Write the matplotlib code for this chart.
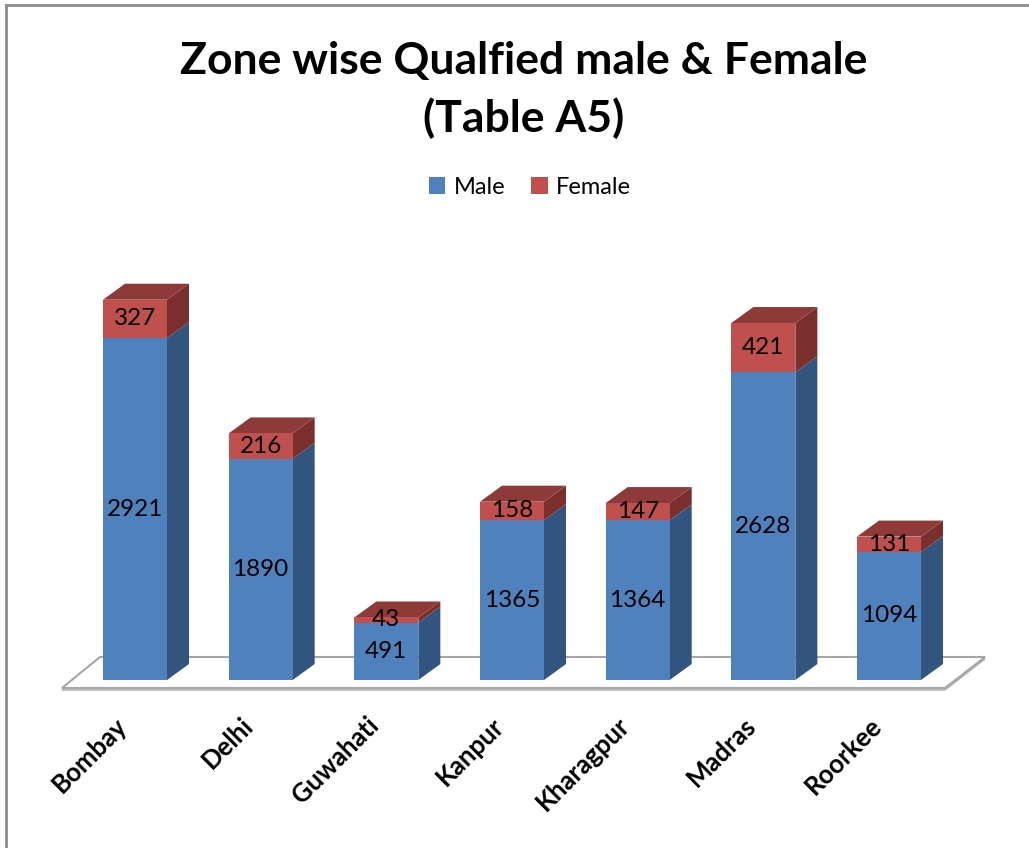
import matplotlib
matplotlib.use("Agg")
import matplotlib.pyplot as plt
from matplotlib.patches import Polygon
from matplotlib.lines import Line2D

# ---- data ----
zones = ["Bombay", "Delhi", "Guwahati", "Kanpur", "Kharagpur", "Madras", "Roorkee"]
male = [2921, 1890, 491, 1365, 1364, 2628, 1094]
female = [327, 216, 43, 158, 147, 421, 131]
title = "Zone wise Qualfied male & Female\n(Table A5)"

# ---- style ----
FONT = "Lato"
male_front, male_side, male_top = "#4F81BD", "#32557F", "#3F6797"
fem_front, fem_side, fem_top = "#C0504D", "#7B2F2D", "#8E3A38"
W, H = 1029, 848
fig = plt.figure(figsize=(W / 100, H / 100), dpi=100)
fig.patch.set_facecolor("white")

# axes spanning whole figure; category index on x, value on y
px_per_cat = 125.67
x0_px = 135.0
px_per_val = 0.11708
base_px = 680.0
ax = fig.add_axes([0, 0, 1, 1])
ax.set_xlim(-x0_px / px_per_cat, (W - x0_px) / px_per_cat)
ax.set_ylim(-(H - base_px) / px_per_val, base_px / px_per_val)
ax.axis("off")

bw = 64 / px_per_cat
dx = 22 / px_per_cat
dy = 16 / px_per_val

# floor
fl_back_y = (base_px - 657) / px_per_val
fl_front_y = (base_px - 688) / px_per_val
fl = [(-0.279, fl_back_y), (6.764, fl_back_y), (6.446, fl_front_y), (-0.581, fl_front_y)]
shadow = [(x, y - 2 / px_per_val) for x, y in fl]
ax.add_patch(Polygon(shadow, closed=True, facecolor="#D0D0D0", edgecolor="#B0B0B0", lw=1.0, zorder=1))
ax.add_patch(Polygon(fl, closed=True, facecolor="white", edgecolor="#A6A6A6", lw=1.5, zorder=2))

xs = list(range(len(zones)))
bm = ax.bar(xs, male, width=bw, color=male_front, zorder=4, label="Male")
bf = ax.bar(xs, female, width=bw, bottom=male, color=fem_front, zorder=4, label="Female")

for i in xs:
    xl, xr = i - bw / 2, i + bw / 2
    m, f = male[i], female[i]
    t = m + f
    # male side
    ax.add_patch(Polygon([(xr, 0), (xr + dx, dy), (xr + dx, m + dy), (xr, m)],
                         closed=True, facecolor=male_side, edgecolor="none", zorder=3))
    # female side
    ax.add_patch(Polygon([(xr, m), (xr + dx, m + dy), (xr + dx, t + dy), (xr, t)],
                         closed=True, facecolor=fem_side, edgecolor="none", zorder=3))
    # top
    ax.add_patch(Polygon([(xl, t), (xl + dx, t + dy), (xr + dx, t + dy), (xr, t)],
                         closed=True, facecolor=fem_top, edgecolor="none", zorder=3))
    # labels
    ax.text(i, m / 2, str(m), ha="center", va="center", fontsize=17.5, family=FONT, color="black", zorder=6)
    ax.text(i, m + f / 2, str(f), ha="center", va="center", fontsize=17.5, family=FONT, color="black", zorder=6)
    # category label
    ax.text(i - 0.16, (base_px - 713) / px_per_val, zones[i], rotation=45, rotation_mode="anchor",
            ha="right", va="top", fontsize=18.5, fontweight="bold", family=FONT, zorder=6)

fig.text(0.509, 1 - 90 / H, title, ha="center", va="center", fontsize=32, fontweight="bold",
         family=FONT, linespacing=1.45)

leg = fig.legend(handles=[bm, bf], labels=["Male", "Female"], loc="center",
                 bbox_to_anchor=(0.515, 1 - 187 / H), ncol=2, frameon=False,
                 prop={"family": FONT, "size": 17}, handlelength=0.7, handleheight=0.7,
                 handletextpad=0.35, columnspacing=1.1)

# outer frame (left and top edges)
fig.add_artist(Line2D([6 / W, 6 / W], [0, 1 - 5 / H], transform=fig.transFigure, color="#8C8C8C", lw=2))
fig.add_artist(Line2D([6 / W, 1], [1 - 5 / H, 1 - 5 / H], transform=fig.transFigure, color="#8C8C8C", lw=2))

fig.savefig("out.png", dpi=100, facecolor="white")
